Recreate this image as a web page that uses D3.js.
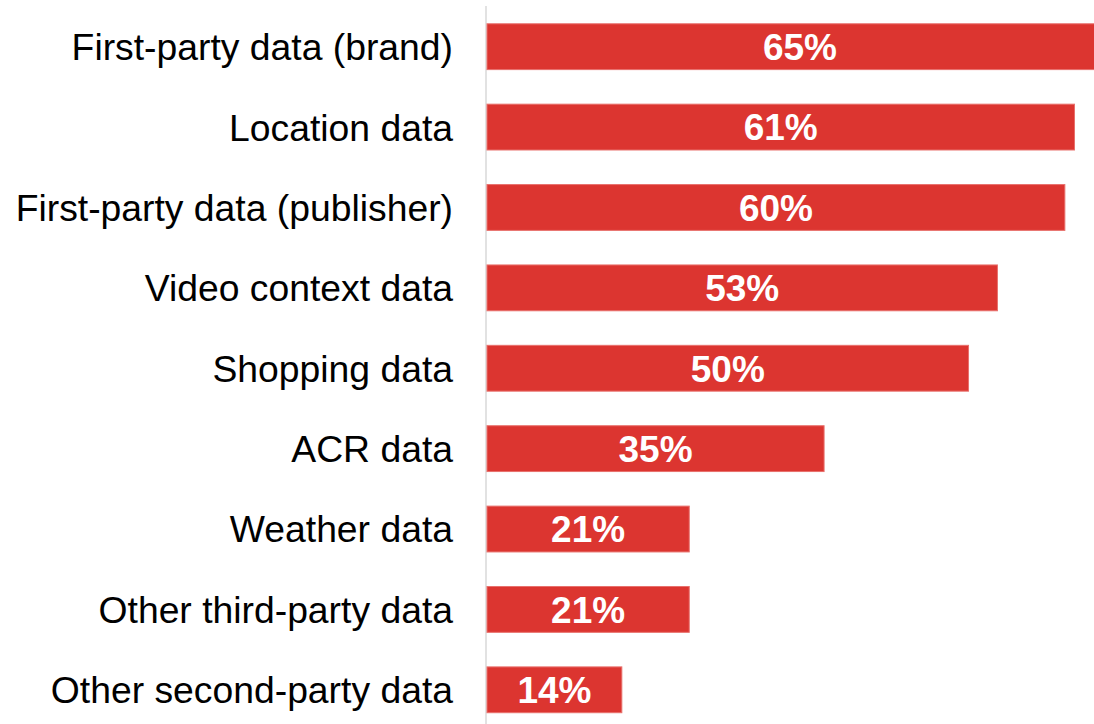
<!DOCTYPE html>
<html>
<head>
<meta charset="utf-8">
<script src="https://cdn.jsdelivr.net/npm/d3@7/dist/d3.min.js"></script>
<style>
  html, body { margin: 0; padding: 0; background: #fff; }
  svg { display: block; }
</style>
</head>
<body>
<div id="chart"></div>
<script>
// data
const categories = [
    "First-party data (brand)",
    "Location data",
    "First-party data (publisher)",
    "Video context data",
    "Shopping data",
    "ACR data",
    "Weather data",
    "Other third-party data",
    "Other second-party data"
];
const values = [65, 61, 60, 53, 50, 35, 21, 21, 14];
const valueLabels = ["65%", "61%", "60%", "53%", "50%", "35%", "21%", "21%", "14%"];

const width = 1094;
const height = 724;
const barColor = "#dc3530";

const rows = categories.map((c, i) => ({ cat: c, value: values[i], label: valueLabels[i] }));

const svg = d3.select('#chart')
    .append('svg')
    .attr('width', width)
    .attr('height', height);

// x: the first bar runs past the right edge, as in the original
const x = d3.scaleLinear()
    .domain([0, 65])
    .range([487, 1113]);

const y = d3.scaleBand()
    .domain(categories)
    .range([6.5, 730])
    .paddingInner(0.43)
    .paddingOuter(0.215);

// baseline
svg.append('line')
    .attr('x1', 486).attr('x2', 486)
    .attr('y1', 6).attr('y2', height)
    .style('stroke', '#d9d9d9')
    .style('stroke-width', 1.5);

svg.append('g').selectAll('rect')
    .data(rows)
    .enter()
    .append('rect')
    .attr('x', x(0))
    .attr('y', d => y(d.cat))
    .attr('width', d => x(d.value) - x(0))
    .attr('height', y.bandwidth())
    .style('fill', barColor)
    .style('stroke', '#e8706c')
    .style('stroke-width', 1);

// category labels
svg.append('g').selectAll('text')
    .data(rows)
    .enter()
    .append('text')
    .attr('x', 453)
    .attr('y', d => y(d.cat) + y.bandwidth() / 2)
    .attr('dy', '0.36em')
    .attr('text-anchor', 'end')
    .style('font-family', '"Liberation Sans", Arial, sans-serif')
    .style('font-size', '37.3px')
    .style('fill', '#000')
    .text(d => d.cat);

// value labels, centred in the bar
svg.append('g').selectAll('text')
    .data(rows)
    .enter()
    .append('text')
    .attr('x', d => (x(0) + x(d.value)) / 2)
    .attr('y', d => y(d.cat) + y.bandwidth() / 2)
    .attr('dy', '0.36em')
    .attr('text-anchor', 'middle')
    .style('font-family', '"Liberation Sans", Arial, sans-serif')
    .style('font-size', '37px')
    .style('font-weight', 'bold')
    .style('fill', '#fff')
    .text(d => d.label);
</script>
</body>
</html>
